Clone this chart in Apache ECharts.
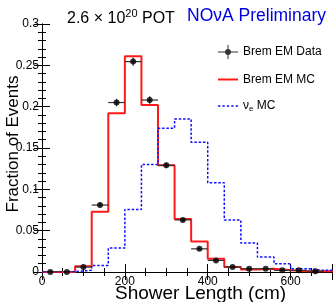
<!DOCTYPE html>
<html>
<head>
<meta charset="utf-8">
<script src="https://cdn.jsdelivr.net/npm/echarts@6/dist/echarts.min.js"></script>
<style>
html,body{margin:0;padding:0;background:#fff;}
#chart{width:333px;height:302px;}
</style>
</head>
<body>
<div id="chart"></div>
<script>
// Bin left edges (cm), bin width 40 cm
var binEdges = [0, 40, 80, 120, 160, 200, 240, 280, 320, 360, 400, 440, 480, 520, 560, 600, 640, 680];
var binWidth = 40;
// Brem EM MC (red histogram)
var bremMC = [0, 0, 0.007, 0.073, 0.192, 0.261, 0.202, 0.129, 0.064, 0.037, 0.016, 0.006, 0.003, 0.004, 0.002, 0.001, 0.001, 0.001];
// nu_e MC (blue dotted histogram)
var nueMC = [0, 0.0005, 0.002, 0.008, 0.029, 0.0755, 0.130, 0.174, 0.185, 0.157, 0.108, 0.063, 0.035, 0.018, 0.010, 0.004, 0.002, 0.002];
// Brem EM Data (points at bin centres)
var dataCenters = [20, 60, 100, 140, 180, 220, 260, 300, 340, 380, 420, 460, 500, 540, 580, 620, 660];
var dataValues = [0, 0, 0.006, 0.081, 0.205, 0.2545, 0.208, 0.129, 0.063, 0.028, 0.014, 0.006, 0.004, 0.004, 0.002, 0.002, 0.001];
var dataErrors = [0, 0, 0.0015, 0.003, 0.0045, 0.005, 0.0045, 0.0035, 0.0025, 0.0017, 0.0012, 0.0008, 0.0007, 0.0007, 0.0005, 0.0005, 0.0003];
// Axis ticks
var xTickLabels = ['0', '200', '400', '600'];
var yTickLabels = ['0', '0.05', '0.1', '0.15', '0.2', '0.25', '0.3'];

function stepData(vals) {
  var d = binEdges.map(function (e, i) { return [e, vals[i]]; });
  d.push([binEdges[binEdges.length - 1] + binWidth, vals[vals.length - 1]]);
  return d;
}

var FONT = 'Liberation Sans';
var chart = echarts.init(document.getElementById('chart'), null, {renderer: 'canvas'});

var axisCommon = {
  axisLine: {show: true, lineStyle: {color: '#000', width: 1}},
  axisTick: {show: true, inside: true, length: 8, lineStyle: {color: '#000', width: 1}},
  minorTick: {show: true, length: 4, lineStyle: {color: '#000', width: 1}},
  splitLine: {show: false}
};

var dataIcon = 'path://M0,6.5 L20,6.5 L20,7.5 L0,7.5 Z M9.5,0 L10.5,0 L10.5,14 L9.5,14 Z M13,7 A3,3 0 1 1 7,7 A3,3 0 1 1 13,7 Z';
var redIcon = 'path://M0,0 L20,0 L20,2 L0,2 Z';
var blueIcon = 'path://M0,0 L2.2,0 L2.2,1.5 L0,1.5 Z M4.2,0 L6.4,0 L6.4,1.5 L4.2,1.5 Z M8.4,0 L10.6,0 L10.6,1.5 L8.4,1.5 Z M12.6,0 L14.8,0 L14.8,1.5 L12.6,1.5 Z M16.8,0 L19,0 L19,1.5 L16.8,1.5 Z';

chart.setOption({
  animation: false,
  backgroundColor: '#fff',
  textStyle: {fontFamily: FONT},
  title: [
    {
      text: '{a|2.6 × 10}{s|20}{a| POT}',
      left: 62, top: 2,
      textStyle: {
        fontWeight: 'normal',
        rich: {
          a: {fontFamily: FONT, fontSize: 16, fontWeight: 'normal', color: '#000', lineHeight: 20, verticalAlign: 'bottom'},
          s: {fontFamily: FONT, fontSize: 11, fontWeight: 'normal', color: '#000', lineHeight: 20, verticalAlign: 'top', padding: [1, 0, 0, 0]}
        }
      }
    },
    {
      text: 'NOνA Preliminary',
      left: 182, top: 2,
      textStyle: {fontFamily: FONT, fontSize: 17.5, fontWeight: 'normal', color: '#0000e0'}
    }
  ],
  legend: {
    orient: 'vertical',
    left: 213, top: 40,
    itemWidth: 20, itemHeight: 14, itemGap: 14.5,
    symbolKeepAspect: true,
    textStyle: {
      fontFamily: FONT, fontSize: 12, color: '#000',
      rich: {
        n: {fontFamily: FONT, fontSize: 12, color: '#000'},
        sub: {fontFamily: FONT, fontSize: 8, color: '#000', padding: [6, 0, 0, 0]}
      }
    },
    formatter: function (name) {
      if (name === 'nue') return '{n|ν}{sub|e}{n| MC}';
      return name;
    },
    data: [
      {name: 'Brem EM Data', icon: dataIcon},
      {name: 'Brem EM MC', icon: redIcon},
      {name: 'nue', icon: blueIcon}
    ]
  },
  grid: {left: 42, right: 1, top: 24, bottom: 30, containLabel: false, outerBoundsMode: 'none'},
  xAxis: [
    Object.assign({}, axisCommon, {
      type: 'value', position: 'bottom', min: 0, max: 700, interval: 200,
      minorTick: Object.assign({}, axisCommon.minorTick, {splitNumber: 4}),
      axisLabel: {
        show: true, color: '#000', fontFamily: FONT, fontSize: 12, margin: 4,
        showMaxLabel: false,
        formatter: function (v) { var i = Math.round(v / 200); return (v % 200 === 0 && xTickLabels[i] !== undefined) ? xTickLabels[i] : ''; }
      },
      name: 'Shower Length (cm)', nameLocation: 'middle', nameGap: 12, nameMoveOverlap: false,
      nameTextStyle: {fontFamily: FONT, fontSize: 19, color: '#000', padding: [0, 0, 0, 27], verticalAlign: 'top'}
    }),
    Object.assign({}, axisCommon, {
      type: 'value', position: 'top', min: 0, max: 700, interval: 200,
      minorTick: Object.assign({}, axisCommon.minorTick, {splitNumber: 4}),
      axisLabel: {show: false}
    })
  ],
  yAxis: [
    Object.assign({}, axisCommon, {
      type: 'value', position: 'left', min: 0, max: 0.3, interval: 0.05,
      minorTick: Object.assign({}, axisCommon.minorTick, {splitNumber: 5}),
      axisLabel: {
        show: true, color: '#000', fontFamily: FONT, fontSize: 12, margin: 3,
        formatter: function (v) { var i = Math.round(v / 0.05); return yTickLabels[i] !== undefined ? yTickLabels[i] : ''; }
      },
      name: 'Fraction of Events', nameLocation: 'middle', nameGap: 20, nameMoveOverlap: false,
      nameTextStyle: {fontFamily: FONT, fontSize: 17, color: '#000', padding: [0, 0, 0, 8]}
    }),
    Object.assign({}, axisCommon, {
      type: 'value', position: 'right', min: 0, max: 0.3, interval: 0.05,
      minorTick: Object.assign({}, axisCommon.minorTick, {splitNumber: 5}),
      axisLabel: {show: false}
    })
  ],
  series: [
    {
      name: 'Brem EM MC', type: 'line', step: 'end', symbol: 'none', clip: true,
      xAxisIndex: 0, yAxisIndex: 0,
      lineStyle: {color: '#ff1a1a', width: 2},
      itemStyle: {color: '#ff1a1a'},
      data: stepData(bremMC), z: 2
    },
    {
      name: 'nue', type: 'line', step: 'end', symbol: 'none', clip: true,
      xAxisIndex: 0, yAxisIndex: 0,
      lineStyle: {color: '#1010ff', width: 1.5, type: [2.5, 1.8]},
      itemStyle: {color: '#1010ff'},
      data: stepData(nueMC), z: 3
    },
    {
      name: 'Brem EM Data err', type: 'custom', clip: true,
      xAxisIndex: 0, yAxisIndex: 0,
      data: dataCenters.map(function (c, i) { return [c, dataValues[i], dataErrors[i]]; }),
      renderItem: function (params, api) {
        var x = api.value(0), y = api.value(1), e = api.value(2);
        var l = api.coord([x - binWidth / 2, y]);
        var r = api.coord([x + binWidth / 2, y]);
        var t = api.coord([x, y + e]);
        var b = api.coord([x, y - e]);
        var st = {stroke: '#333', lineWidth: 1.2, fill: null};
        return {
          type: 'group',
          children: [
            {type: 'line', shape: {x1: l[0], y1: l[1], x2: r[0], y2: r[1]}, style: st},
            {type: 'line', shape: {x1: t[0], y1: t[1], x2: b[0], y2: b[1]}, style: st}
          ]
        };
      },
      z: 4
    },
    {
      name: 'Brem EM Data', type: 'scatter', clip: false,
      xAxisIndex: 0, yAxisIndex: 0,
      symbol: 'circle', symbolSize: 6,
      itemStyle: {color: '#000'},
      data: dataCenters.map(function (c, i) { return [c, dataValues[i]]; }),
      z: 5
    }
  ]
});
</script>
</body>
</html>
